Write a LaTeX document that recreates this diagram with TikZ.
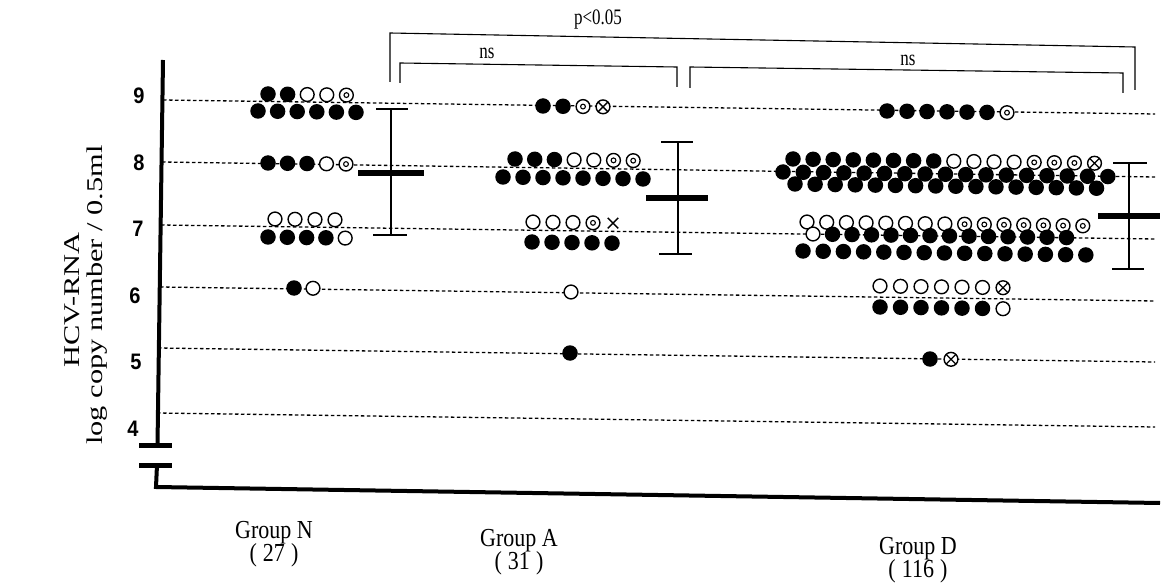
\documentclass[tikz,border=0pt]{standalone}
\usepackage{fontspec}
\setmainfont{Liberation Serif}
\newfontfamily\tickfont{Liberation Sans}
\usetikzlibrary{shapes.misc}
\tikzset{
 dotf/.style={circle, fill=black, inner sep=0pt, minimum size=15.5pt},
 doto/.style={circle, draw=black, fill=white, line width=1.4pt, inner sep=0pt, minimum size=13.8pt},
 dotc/.style={doto, path picture={\draw[line width=1.1pt] (path picture bounding box.center) circle (2.4pt);}},
 dotx/.style={doto, path picture={\draw[line width=1.3pt] (path picture bounding box.north west) -- (path picture bounding box.south east) (path picture bounding box.north east) -- (path picture bounding box.south west);}},
 dotm/.style={cross out, draw=black, line width=1.5pt, inner sep=0pt, minimum size=9pt},
 gridline/.style={line width=1.3pt, dash pattern=on 3.5pt off 2.5pt},
 axisline/.style={line width=4pt},
 breakbar/.style={line width=5pt},
 errline/.style={line width=1.5pt},
 meanbar/.style={line width=6pt},
 bracket/.style={line width=1.1pt},
 ticklbl/.style={font=\tickfont\bfseries\fontsize{20}{22}\selectfont, inner sep=0pt, yscale=1.12},
 grouplbl/.style={font=\fontsize{22}{20}\selectfont, inner sep=0pt, yscale=1.18, align=center},
 sigl/.style={font=\fontsize{17}{19}\selectfont, inner sep=0pt, yscale=1.3},
 ytitle/.style={font=\fontsize{22.5}{24}\selectfont, inner sep=0pt, rotate=90, xscale=1.35},
}
\newcommand\dotrow[5]{%
  \foreach \t [count=\i from 0] in {#5} {%
    \node[dot\t] (#1-\i) at ({#2+\i*#4},{#3+\i*0.014*#4}) {};%
  }%
}
\begin{document}
\begin{tikzpicture}[x=1pt,y=-1pt]
\useasboundingbox (0,0) rectangle (1162,588);
% grid lines
\draw[gridline] (163,100) -- (1155,114);
\draw[gridline] (162,162) -- (1155,177);
\draw[gridline] (161,225) -- (1155,239);
\draw[gridline] (160,287) -- (1155,301);
\draw[gridline] (158,348) -- (1155,362);
\draw[gridline] (157,413) -- (1155,427);
% axes
\draw[axisline] (163,60) -- (157.5,445);
\draw[axisline, line join=miter] (157,465) -- (156,487) -- (1160,503);
\draw[breakbar] (139,445) -- (172,445);
\draw[breakbar] (139,465) -- (172,465);
% tick labels
\node[ticklbl] (t9) at (139,96) {9};
\node[ticklbl] (t8) at (139,163) {8};
\node[ticklbl] (t7) at (138,229) {7};
\node[ticklbl] (t6) at (135,296) {6};
\node[ticklbl] (t5) at (136,362) {5};
\node[ticklbl] (t4) at (133,429) {4};
% y title
\node[ytitle] (yt1) at (72,300) {HCV-RNA};
\node[ytitle] (yt2) at (97,295) {log copy number / 0.5ml};
% Group N
\dotrow{N9b}{258}{111}{19.6}{f,f,f,f,f,f}
\dotrow{N9t}{268}{94}{19.6}{f,f,o,o,c}
\dotrow{N8}{268}{163}{19.5}{f,f,f,o,c}
\dotrow{N7t}{275}{219}{20}{o,o,o,o}
\dotrow{N7b}{268}{237}{19.3}{f,f,f,f,o}
\dotrow{N6}{294}{288}{19}{f,o}
% Group A
\dotrow{A9}{543}{106}{20}{f,f,c,x}
\dotrow{A8b}{503}{177}{20}{f,f,f,f,f,f,f,f}
\dotrow{A8t}{515}{159}{19.7}{f,f,f,o,o,c,c}
\dotrow{A7t}{533}{222}{20}{o,o,o,c,m}
\dotrow{A7b}{532}{242}{20}{f,f,f,f,f}
\dotrow{A6}{571}{292}{20}{o}
\dotrow{A5}{570}{353}{20}{f}
% Group D
\dotrow{D9}{887}{111}{20}{f,f,f,f,f,f,c}
\dotrow{D8t}{793}{159}{20.1}{f,f,f,f,f,f,f,f,o,o,o,o,c,c,c,x}
\dotrow{D8b}{795}{184}{20.1}{f,f,f,f,f,f,f,f,f,f,f,f,f,f,f,f}
\dotrow{D8m}{783}{172}{20.3}{f,f,f,f,f,f,f,f,f,f,f,f,f,f,f,f,f}
\dotrow{D7b}{803}{251}{20.2}{f,f,f,f,f,f,f,f,f,f,f,f,f,f,f}
\dotrow{D7t}{807}{222}{19.7}{o,o,o,o,o,o,o,o,c,c,c,c,c,c,c}
\dotrow{D7m}{813}{234}{19.5}{o,f,f,f,f,f,f,f,f,f,f,f,f,f}
\dotrow{D6t}{880}{286}{20.5}{o,o,o,o,o,o,x}
\dotrow{D6b}{880}{307}{20.5}{f,f,f,f,f,f,o}
\dotrow{D5}{930}{359}{21}{f,x}
% error bars
\coordinate (nT) at (391,109); \coordinate (nB) at (391,235);
\draw[errline] (nT) -- (nB);
\draw[errline] (376,109) -- (408,109);
\draw[errline] (373,235) -- (407,235);
\draw[meanbar] (358,173.5) -- (424,173.5);
\coordinate (aT) at (678,142); \coordinate (aB) at (678,254);
\draw[errline] (aT) -- (aB);
\draw[errline] (661,142) -- (693,142);
\draw[errline] (659,254) -- (692,254);
\draw[meanbar] (646,198.5) -- (708,198.5);
\coordinate (dT) at (1129,163); \coordinate (dB) at (1129,269);
\draw[errline] (dT) -- (dB);
\draw[errline] (1113,163) -- (1147,163);
\draw[errline] (1112,269) -- (1144,269);
\draw[meanbar] (1098,216) -- (1160,216);
% brackets
\draw[bracket] (390,82) -- (390,33) -- (1135,47) -- (1135,90);
\draw[bracket] (400,83) -- (400,63) -- (677,67) -- (677,87);
\draw[bracket] (690,88) -- (690,67) -- (1123,73) -- (1123,93);
\node[sigl] (p1) at (598,20) {p<0.05};
\node[sigl] (ns1) at (487,53) {ns};
\node[sigl] (ns2) at (908,60) {ns};
% group labels
\node[grouplbl] (gN) at (274,544) {Group N\\(\;27\;)};
\node[grouplbl] (gA) at (519,552) {Group A\\(\;31\;)};
\node[grouplbl] (gD) at (918,560) {Group D\\(\;116\;)};
\end{tikzpicture}
\end{document}
